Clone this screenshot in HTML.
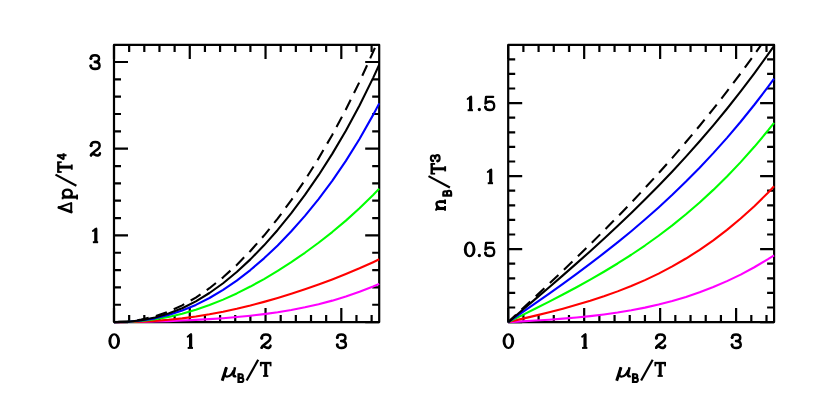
<!DOCTYPE html>
<html><head><meta charset="utf-8"><title>plot</title>
<style>html,body{margin:0;padding:0;background:#fff;overflow:hidden;font-family:"Liberation Sans",sans-serif;}svg{display:block;}</style></head>
<body>
<svg width="817" height="409" viewBox="0 0 817 409">
<rect width="817" height="409" fill="#fff"/>
<path d="M114.00,322.1 v-14.0 M114.00,44.9 v14.0 M129.15,322.1 v-7.0 M129.15,44.9 v7.0 M144.31,322.1 v-7.0 M144.31,44.9 v7.0 M159.46,322.1 v-7.0 M159.46,44.9 v7.0 M174.62,322.1 v-7.0 M174.62,44.9 v7.0 M189.77,322.1 v-14.0 M189.77,44.9 v14.0 M204.93,322.1 v-7.0 M204.93,44.9 v7.0 M220.08,322.1 v-7.0 M220.08,44.9 v7.0 M235.23,322.1 v-7.0 M235.23,44.9 v7.0 M250.39,322.1 v-7.0 M250.39,44.9 v7.0 M265.54,322.1 v-14.0 M265.54,44.9 v14.0 M280.70,322.1 v-7.0 M280.70,44.9 v7.0 M295.85,322.1 v-7.0 M295.85,44.9 v7.0 M311.01,322.1 v-7.0 M311.01,44.9 v7.0 M326.16,322.1 v-7.0 M326.16,44.9 v7.0 M341.31,322.1 v-14.0 M341.31,44.9 v14.0 M356.47,322.1 v-7.0 M356.47,44.9 v7.0 M371.62,322.1 v-7.0 M371.62,44.9 v7.0 M114.0,322.10 h14.0 M379.20,322.10 h-14.0 M114.0,304.76 h7.0 M379.20,304.76 h-7.0 M114.0,287.42 h7.0 M379.20,287.42 h-7.0 M114.0,270.08 h7.0 M379.20,270.08 h-7.0 M114.0,252.74 h7.0 M379.20,252.74 h-7.0 M114.0,235.40 h14.0 M379.20,235.40 h-14.0 M114.0,218.06 h7.0 M379.20,218.06 h-7.0 M114.0,200.72 h7.0 M379.20,200.72 h-7.0 M114.0,183.38 h7.0 M379.20,183.38 h-7.0 M114.0,166.04 h7.0 M379.20,166.04 h-7.0 M114.0,148.70 h14.0 M379.20,148.70 h-14.0 M114.0,131.36 h7.0 M379.20,131.36 h-7.0 M114.0,114.02 h7.0 M379.20,114.02 h-7.0 M114.0,96.68 h7.0 M379.20,96.68 h-7.0 M114.0,79.34 h7.0 M379.20,79.34 h-7.0 M114.0,62.00 h14.0 M379.20,62.00 h-14.0" stroke="#000" stroke-width="2.2" fill="none"/>
<rect x="114.0" y="44.9" width="265.20" height="277.20" fill="none" stroke="#000" stroke-width="2.2" stroke-linejoin="round"/>
<clipPath id="cl"><rect x="111.0" y="44.9" width="271.20" height="281.20"/></clipPath>
<g clip-path="url(#cl)" fill="none" stroke-width="2.1" stroke-linejoin="round">
<path d="M114.00,322.10 L127.64,322.03 L141.28,321.83 L154.92,321.52 L168.56,321.09 L182.19,320.57 L195.83,319.92 L209.47,319.13 L223.11,318.19 L236.75,317.06 L250.39,315.71 L264.03,314.10 L277.67,312.20 L291.31,309.94 L304.94,307.30 L318.58,304.21 L332.22,300.64 L345.86,296.52 L359.50,291.80 L373.14,286.45 L379.20,283.85" stroke="#ff00ff"/>
<path d="M114.00,322.10 L127.64,321.98 L141.28,321.59 L154.92,320.87 L168.56,319.79 L182.19,318.34 L195.83,316.50 L209.47,314.28 L223.11,311.70 L236.75,308.75 L250.39,305.47 L264.03,301.86 L277.67,297.95 L291.31,293.74 L304.94,289.25 L318.58,284.48 L332.22,279.41 L345.86,274.03 L359.50,268.31 L373.14,262.18 L379.20,259.31" stroke="#ff0000"/>
<path d="M114.00,322.10 L127.64,321.82 L141.28,320.90 L154.92,319.28 L168.56,316.90 L182.19,313.74 L195.83,309.79 L209.47,305.07 L223.11,299.61 L236.75,293.43 L250.39,286.56 L264.03,279.05 L277.67,270.90 L291.31,262.15 L304.94,252.77 L318.58,242.76 L332.22,232.06 L345.86,220.60 L359.50,208.27 L373.14,194.92 L379.20,188.61" stroke="#00ff00"/>
<path d="M114.00,322.10 L127.64,321.74 L141.28,320.54 L154.92,318.34 L168.56,315.04 L182.19,310.58 L195.83,304.91 L209.47,298.02 L223.11,289.90 L236.75,280.58 L250.39,270.07 L264.03,258.36 L277.67,245.45 L291.31,231.31 L304.94,215.90 L318.58,199.12 L332.22,180.83 L345.86,160.87 L359.50,138.99 L373.14,114.89 L379.20,103.38" stroke="#0000ff"/>
<path d="M114.00,322.10 L127.64,321.67 L141.28,320.22 L154.92,317.58 L168.56,313.60 L182.19,308.20 L195.83,301.34 L209.47,293.02 L223.11,283.23 L236.75,272.01 L250.39,259.37 L264.03,245.34 L277.67,229.94 L291.31,213.15 L304.94,194.94 L318.58,175.21 L332.22,153.86 L345.86,130.69 L359.50,105.47 L373.14,77.86 L379.20,64.73" stroke="#000000"/>
<path d="M114.00,322.10 L127.64,321.51 L141.28,319.63 L154.92,316.36 L168.56,311.61 L182.19,305.35 L195.83,297.55 L209.47,288.20 L223.11,277.31 L236.75,264.91 L250.39,250.99 L264.03,235.57 L277.67,218.63 L291.31,200.17 L304.94,180.12 L318.58,158.40 L332.22,134.91 L345.86,109.47 L359.50,81.89 L373.14,51.89 L376.98,42.90" stroke="#000000" stroke-dasharray="11.6 7.5" stroke-dashoffset="-4.3"/>
</g>
<path d="M508.20,322.1 v-14.0 M508.20,44.9 v14.0 M523.39,322.1 v-7.0 M523.39,44.9 v7.0 M538.59,322.1 v-7.0 M538.59,44.9 v7.0 M553.78,322.1 v-7.0 M553.78,44.9 v7.0 M568.98,322.1 v-7.0 M568.98,44.9 v7.0 M584.17,322.1 v-14.0 M584.17,44.9 v14.0 M599.37,322.1 v-7.0 M599.37,44.9 v7.0 M614.56,322.1 v-7.0 M614.56,44.9 v7.0 M629.75,322.1 v-7.0 M629.75,44.9 v7.0 M644.95,322.1 v-7.0 M644.95,44.9 v7.0 M660.14,322.1 v-14.0 M660.14,44.9 v14.0 M675.34,322.1 v-7.0 M675.34,44.9 v7.0 M690.53,322.1 v-7.0 M690.53,44.9 v7.0 M705.73,322.1 v-7.0 M705.73,44.9 v7.0 M720.92,322.1 v-7.0 M720.92,44.9 v7.0 M736.11,322.1 v-14.0 M736.11,44.9 v14.0 M751.31,322.1 v-7.0 M751.31,44.9 v7.0 M766.50,322.1 v-7.0 M766.50,44.9 v7.0 M508.2,322.10 h14.0 M774.10,322.10 h-14.0 M508.2,307.50 h7.0 M774.10,307.50 h-7.0 M508.2,292.90 h7.0 M774.10,292.90 h-7.0 M508.2,278.30 h7.0 M774.10,278.30 h-7.0 M508.2,263.70 h7.0 M774.10,263.70 h-7.0 M508.2,249.10 h14.0 M774.10,249.10 h-14.0 M508.2,234.50 h7.0 M774.10,234.50 h-7.0 M508.2,219.90 h7.0 M774.10,219.90 h-7.0 M508.2,205.30 h7.0 M774.10,205.30 h-7.0 M508.2,190.70 h7.0 M774.10,190.70 h-7.0 M508.2,176.10 h14.0 M774.10,176.10 h-14.0 M508.2,161.50 h7.0 M774.10,161.50 h-7.0 M508.2,146.90 h7.0 M774.10,146.90 h-7.0 M508.2,132.30 h7.0 M774.10,132.30 h-7.0 M508.2,117.70 h7.0 M774.10,117.70 h-7.0 M508.2,103.10 h14.0 M774.10,103.10 h-14.0 M508.2,88.50 h7.0 M774.10,88.50 h-7.0 M508.2,73.90 h7.0 M774.10,73.90 h-7.0 M508.2,59.30 h7.0 M774.10,59.30 h-7.0" stroke="#000" stroke-width="2.2" fill="none"/>
<rect x="508.2" y="44.9" width="265.90" height="277.20" fill="none" stroke="#000" stroke-width="2.2" stroke-linejoin="round"/>
<clipPath id="cr"><rect x="505.2" y="44.9" width="271.90" height="281.20"/></clipPath>
<g clip-path="url(#cr)" fill="none" stroke-width="2.1" stroke-linejoin="round">
<path d="M508.20,322.10 L521.87,321.35 L535.55,320.55 L549.22,319.68 L562.90,318.67 L576.57,317.50 L590.25,316.11 L603.92,314.47 L617.60,312.54 L631.27,310.26 L644.95,307.61 L658.62,304.52 L672.30,300.97 L685.97,296.90 L699.65,292.27 L713.32,287.04 L727.00,281.16 L740.67,274.58 L754.35,267.26 L768.02,259.15 L774.10,255.28" stroke="#ff00ff"/>
<path d="M508.20,322.10 L521.87,318.89 L535.55,315.62 L549.22,312.23 L562.90,308.66 L576.57,304.85 L590.25,300.74 L603.92,296.27 L617.60,291.38 L631.27,286.00 L644.95,280.09 L658.62,273.58 L672.30,266.41 L685.97,258.52 L699.65,249.85 L713.32,240.34 L727.00,229.93 L740.67,218.56 L754.35,206.17 L768.02,192.70 L774.10,186.35" stroke="#ff0000"/>
<path d="M508.20,322.10 L521.87,315.35 L535.55,308.54 L549.22,301.63 L562.90,294.55 L576.57,287.25 L590.25,279.67 L603.92,271.77 L617.60,263.48 L631.27,254.75 L644.95,245.52 L658.62,235.74 L672.30,225.34 L685.97,214.27 L699.65,202.48 L713.32,189.89 L727.00,176.46 L740.67,162.11 L754.35,146.80 L768.02,130.46 L774.10,122.84" stroke="#00ff00"/>
<path d="M508.20,322.10 L521.87,312.64 L535.55,303.13 L549.22,293.52 L562.90,283.77 L576.57,273.83 L590.25,263.65 L603.92,253.19 L617.60,242.38 L631.27,231.19 L644.95,219.57 L658.62,207.45 L672.30,194.81 L685.97,181.57 L699.65,167.70 L713.32,153.13 L727.00,137.83 L740.67,121.72 L754.35,104.76 L768.02,86.90 L774.10,78.65" stroke="#0000ff"/>
<path d="M508.20,322.10 L521.87,310.52 L535.55,298.89 L549.22,287.19 L562.90,275.37 L576.57,263.38 L590.25,251.19 L603.92,238.76 L617.60,226.04 L631.27,212.99 L644.95,199.57 L658.62,185.73 L672.30,171.43 L685.97,156.63 L699.65,141.27 L713.32,125.31 L727.00,108.71 L740.67,91.40 L754.35,73.34 L768.02,54.47 L774.10,45.82" stroke="#000000"/>
<path d="M508.20,322.10 L521.87,309.35 L535.55,296.56 L549.22,283.69 L562.90,270.70 L576.57,257.55 L590.25,244.21 L603.92,230.64 L617.60,216.79 L631.27,202.63 L644.95,188.11 L658.62,173.20 L672.30,157.87 L685.97,142.06 L699.65,125.74 L713.32,108.88 L727.00,91.42 L740.67,73.34 L754.35,54.60 L762.57,42.90" stroke="#000000" stroke-dasharray="11.8 7.6" stroke-dashoffset="1.1"/>
</g>
<g transform="translate(108.15,348.90) scale(1,1.04)"><path d="M0.20000000000000018,-7.5 a5.85,7.6 0 1,0 11.7,0 a5.85,7.6 0 1,0 -11.7,0 Z M3.0999999999999996,-7.5 a2.95,5.6 0 1,0 5.9,0 a2.95,5.6 0 1,0 -5.9,0 Z" fill="#000" fill-rule="evenodd"/></g>
<g transform="translate(186.47,348.90) scale(1,1.04)"><path d="M4.15,-14.0 V-1.0" fill="none" stroke="#000" stroke-width="3.2" stroke-linecap="butt" stroke-linejoin="round"/><path d="M4.6,-14.2 L1.2,-11.7" fill="none" stroke="#000" stroke-width="1.9" stroke-linecap="round" stroke-linejoin="round"/><path d="M1.2,-0.95 H6.5" fill="none" stroke="#000" stroke-width="1.9" stroke-linecap="butt" stroke-linejoin="round"/></g>
<g transform="translate(259.99,348.90) scale(1,1.04)"><path d="M1.7,-10.40 C1.7,-12.80 3.6,-13.90 5.9,-13.90 C8.6,-13.90 10.3,-12.50 10.3,-10.40 C10.3,-8.10 8.2,-6.70 5.9,-5.30 C3.6,-3.80 2.2,-2.60 1.7,-1.20" fill="none" stroke="#000" stroke-width="2.5" stroke-linecap="round" stroke-linejoin="round"/><path d="M1.6,-1.10 C2.3,-2.80 3.6,-2.80 5.0,-2.00 C6.5,-1.10 7.9,-0.70 9.1,-1.10 C10.0,-1.50 10.5,-2.20 10.6,-3.10" fill="none" stroke="#000" stroke-width="2.5" stroke-linecap="round" stroke-linejoin="round"/><circle cx="1.8" cy="-10.5" r="1.6" fill="#000"/></g>
<g transform="translate(335.76,348.90) scale(1,1.04)"><path d="M1.5,-10.90 C1.5,-13.00 3.5,-13.90 5.6,-13.90 C8.2,-13.90 9.7,-12.60 9.7,-10.80 C9.7,-8.90 8.3,-7.70 5.4,-7.60 C8.6,-7.50 10.2,-6.00 10.2,-4.00 C10.2,-1.60 8.3,-0.90 5.6,-0.90 C3.3,-0.90 1.4,-1.80 1.4,-3.70" fill="none" stroke="#000" stroke-width="2.45" stroke-linecap="round" stroke-linejoin="round"/><circle cx="1.6" cy="-11.0" r="1.5" fill="#000"/><circle cx="1.5" cy="-3.9000000000000004" r="1.5" fill="#000"/></g>
<g transform="translate(502.35,348.90) scale(1,1.04)"><path d="M0.20000000000000018,-7.5 a5.85,7.6 0 1,0 11.7,0 a5.85,7.6 0 1,0 -11.7,0 Z M3.0999999999999996,-7.5 a2.95,5.6 0 1,0 5.9,0 a2.95,5.6 0 1,0 -5.9,0 Z" fill="#000" fill-rule="evenodd"/></g>
<g transform="translate(580.87,348.90) scale(1,1.04)"><path d="M4.15,-14.0 V-1.0" fill="none" stroke="#000" stroke-width="3.2" stroke-linecap="butt" stroke-linejoin="round"/><path d="M4.6,-14.2 L1.2,-11.7" fill="none" stroke="#000" stroke-width="1.9" stroke-linecap="round" stroke-linejoin="round"/><path d="M1.2,-0.95 H6.5" fill="none" stroke="#000" stroke-width="1.9" stroke-linecap="butt" stroke-linejoin="round"/></g>
<g transform="translate(654.59,348.90) scale(1,1.04)"><path d="M1.7,-10.40 C1.7,-12.80 3.6,-13.90 5.9,-13.90 C8.6,-13.90 10.3,-12.50 10.3,-10.40 C10.3,-8.10 8.2,-6.70 5.9,-5.30 C3.6,-3.80 2.2,-2.60 1.7,-1.20" fill="none" stroke="#000" stroke-width="2.5" stroke-linecap="round" stroke-linejoin="round"/><path d="M1.6,-1.10 C2.3,-2.80 3.6,-2.80 5.0,-2.00 C6.5,-1.10 7.9,-0.70 9.1,-1.10 C10.0,-1.50 10.5,-2.20 10.6,-3.10" fill="none" stroke="#000" stroke-width="2.5" stroke-linecap="round" stroke-linejoin="round"/><circle cx="1.8" cy="-10.5" r="1.6" fill="#000"/></g>
<g transform="translate(730.56,348.90) scale(1,1.04)"><path d="M1.5,-10.90 C1.5,-13.00 3.5,-13.90 5.6,-13.90 C8.2,-13.90 9.7,-12.60 9.7,-10.80 C9.7,-8.90 8.3,-7.70 5.4,-7.60 C8.6,-7.50 10.2,-6.00 10.2,-4.00 C10.2,-1.60 8.3,-0.90 5.6,-0.90 C3.3,-0.90 1.4,-1.80 1.4,-3.70" fill="none" stroke="#000" stroke-width="2.45" stroke-linecap="round" stroke-linejoin="round"/><circle cx="1.6" cy="-11.0" r="1.5" fill="#000"/><circle cx="1.5" cy="-3.9000000000000004" r="1.5" fill="#000"/></g>
<g transform="translate(91.65,243.20) scale(1,1.04)"><path d="M4.15,-14.0 V-1.0" fill="none" stroke="#000" stroke-width="3.2" stroke-linecap="butt" stroke-linejoin="round"/><path d="M4.6,-14.2 L1.2,-11.7" fill="none" stroke="#000" stroke-width="1.9" stroke-linecap="round" stroke-linejoin="round"/><path d="M1.2,-0.95 H6.5" fill="none" stroke="#000" stroke-width="1.9" stroke-linecap="butt" stroke-linejoin="round"/></g>
<g transform="translate(89.35,156.50) scale(1,1.04)"><path d="M1.7,-10.40 C1.7,-12.80 3.6,-13.90 5.9,-13.90 C8.6,-13.90 10.3,-12.50 10.3,-10.40 C10.3,-8.10 8.2,-6.70 5.9,-5.30 C3.6,-3.80 2.2,-2.60 1.7,-1.20" fill="none" stroke="#000" stroke-width="2.5" stroke-linecap="round" stroke-linejoin="round"/><path d="M1.6,-1.10 C2.3,-2.80 3.6,-2.80 5.0,-2.00 C6.5,-1.10 7.9,-0.70 9.1,-1.10 C10.0,-1.50 10.5,-2.20 10.6,-3.10" fill="none" stroke="#000" stroke-width="2.5" stroke-linecap="round" stroke-linejoin="round"/><circle cx="1.8" cy="-10.5" r="1.6" fill="#000"/></g>
<g transform="translate(89.35,69.80) scale(1,1.04)"><path d="M1.5,-10.90 C1.5,-13.00 3.5,-13.90 5.6,-13.90 C8.2,-13.90 9.7,-12.60 9.7,-10.80 C9.7,-8.90 8.3,-7.70 5.4,-7.60 C8.6,-7.50 10.2,-6.00 10.2,-4.00 C10.2,-1.60 8.3,-0.90 5.6,-0.90 C3.3,-0.90 1.4,-1.80 1.4,-3.70" fill="none" stroke="#000" stroke-width="2.45" stroke-linecap="round" stroke-linejoin="round"/><circle cx="1.6" cy="-11.0" r="1.5" fill="#000"/><circle cx="1.5" cy="-3.9000000000000004" r="1.5" fill="#000"/></g>
<g transform="translate(463.60,257.20) scale(1,1.04)"><path d="M0.20000000000000018,-7.5 a5.85,7.6 0 1,0 11.7,0 a5.85,7.6 0 1,0 -11.7,0 Z M3.0999999999999996,-7.5 a2.95,5.6 0 1,0 5.9,0 a2.95,5.6 0 1,0 -5.9,0 Z" fill="#000" fill-rule="evenodd"/></g><g transform="translate(477.65,257.20) scale(1,1.04)"><circle cx="1.7" cy="-1.6" r="1.6" fill="#000"/></g><g transform="translate(483.75,257.20) scale(1,1.04)"><path d="M9.4,-13.80 H2.3 L1.7,-7.40 C2.9,-8.70 4.4,-9.30 6.0,-9.30 C8.8,-9.30 10.5,-7.60 10.5,-5.10 C10.5,-2.50 8.7,-1.10 5.9,-1.10 C3.8,-1.10 1.8,-2.00 1.5,-4.00" fill="none" stroke="#000" stroke-width="2.3" stroke-linecap="round" stroke-linejoin="round"/><circle cx="1.7" cy="-4.1" r="1.45" fill="#000"/></g>
<g transform="translate(486.55,184.20) scale(1,1.04)"><path d="M4.15,-14.0 V-1.0" fill="none" stroke="#000" stroke-width="3.2" stroke-linecap="butt" stroke-linejoin="round"/><path d="M4.6,-14.2 L1.2,-11.7" fill="none" stroke="#000" stroke-width="1.9" stroke-linecap="round" stroke-linejoin="round"/><path d="M1.2,-0.95 H6.5" fill="none" stroke="#000" stroke-width="1.9" stroke-linecap="butt" stroke-linejoin="round"/></g>
<g transform="translate(466.45,111.20) scale(1,1.04)"><path d="M4.15,-14.0 V-1.0" fill="none" stroke="#000" stroke-width="3.2" stroke-linecap="butt" stroke-linejoin="round"/><path d="M4.6,-14.2 L1.2,-11.7" fill="none" stroke="#000" stroke-width="1.9" stroke-linecap="round" stroke-linejoin="round"/><path d="M1.2,-0.95 H6.5" fill="none" stroke="#000" stroke-width="1.9" stroke-linecap="butt" stroke-linejoin="round"/></g><g transform="translate(477.65,111.20) scale(1,1.04)"><circle cx="1.7" cy="-1.6" r="1.6" fill="#000"/></g><g transform="translate(483.75,111.20) scale(1,1.04)"><path d="M9.4,-13.80 H2.3 L1.7,-7.40 C2.9,-8.70 4.4,-9.30 6.0,-9.30 C8.8,-9.30 10.5,-7.60 10.5,-5.10 C10.5,-2.50 8.7,-1.10 5.9,-1.10 C3.8,-1.10 1.8,-2.00 1.5,-4.00" fill="none" stroke="#000" stroke-width="2.3" stroke-linecap="round" stroke-linejoin="round"/><circle cx="1.7" cy="-4.1" r="1.45" fill="#000"/></g>
<g transform="translate(220.90,377.00)"><path d="M5.6,-9.8 L1.3,3.7" fill="none" stroke="#000" stroke-width="2.9" stroke-linecap="butt" stroke-linejoin="round"/><path d="M5.2,-9 L4,-3.6 C3.5,-1.2 5.0,-0.3 6.7,-0.5 C9,-0.8 11.2,-3 12.5,-6" fill="none" stroke="#000" stroke-width="2.2" stroke-linecap="round" stroke-linejoin="round"/><path d="M14.1,-9.8 L12.6,-2.8 C12.2,-0.9 13.6,-0.2 15.2,-1.1" fill="none" stroke="#000" stroke-width="2.5" stroke-linecap="butt" stroke-linejoin="round"/></g><g transform="translate(237.30,383.00)"><g transform="scale(1,1.08)"><path d="M1.3,0 V-9" fill="none" stroke="#000" stroke-width="2.4" stroke-linecap="butt" stroke-linejoin="round"/><path d="M1.3,-8.1 H3.7 C6.1,-8.1 6.1,-4.7 3.7,-4.7 H1.3 M3.7,-4.7 C6.9,-4.7 6.9,-0.9 3.7,-0.9 H1.3" fill="none" stroke="#000" stroke-width="2.0" stroke-linecap="butt" stroke-linejoin="miter"/></g></g><path d="M246.60,380.5 L258.20,359.7" fill="none" stroke="#000" stroke-width="2.2" stroke-linecap="butt" stroke-linejoin="round"/><g transform="translate(259.90,376.90)"><path d="M0.9,-13.9 H10.7" fill="none" stroke="#000" stroke-width="2.3" stroke-linecap="butt" stroke-linejoin="round"/><path d="M0.9,-15.0 V-10.6" fill="none" stroke="#000" stroke-width="1.8" stroke-linecap="butt" stroke-linejoin="round"/><path d="M10.7,-15.0 V-10.6" fill="none" stroke="#000" stroke-width="1.8" stroke-linecap="butt" stroke-linejoin="round"/><path d="M5.8,-13.9 V-0.9" fill="none" stroke="#000" stroke-width="3.0" stroke-linecap="butt" stroke-linejoin="round"/><path d="M3.2,-0.9 H8.4" fill="none" stroke="#000" stroke-width="1.8" stroke-linecap="butt" stroke-linejoin="round"/></g>
<g transform="translate(615.40,377.00)"><path d="M5.6,-9.8 L1.3,3.7" fill="none" stroke="#000" stroke-width="2.9" stroke-linecap="butt" stroke-linejoin="round"/><path d="M5.2,-9 L4,-3.6 C3.5,-1.2 5.0,-0.3 6.7,-0.5 C9,-0.8 11.2,-3 12.5,-6" fill="none" stroke="#000" stroke-width="2.2" stroke-linecap="round" stroke-linejoin="round"/><path d="M14.1,-9.8 L12.6,-2.8 C12.2,-0.9 13.6,-0.2 15.2,-1.1" fill="none" stroke="#000" stroke-width="2.5" stroke-linecap="butt" stroke-linejoin="round"/></g><g transform="translate(631.80,383.00)"><g transform="scale(1,1.08)"><path d="M1.3,0 V-9" fill="none" stroke="#000" stroke-width="2.4" stroke-linecap="butt" stroke-linejoin="round"/><path d="M1.3,-8.1 H3.7 C6.1,-8.1 6.1,-4.7 3.7,-4.7 H1.3 M3.7,-4.7 C6.9,-4.7 6.9,-0.9 3.7,-0.9 H1.3" fill="none" stroke="#000" stroke-width="2.0" stroke-linecap="butt" stroke-linejoin="miter"/></g></g><path d="M641.10,380.5 L652.70,359.7" fill="none" stroke="#000" stroke-width="2.2" stroke-linecap="butt" stroke-linejoin="round"/><g transform="translate(654.40,376.90)"><path d="M0.9,-13.9 H10.7" fill="none" stroke="#000" stroke-width="2.3" stroke-linecap="butt" stroke-linejoin="round"/><path d="M0.9,-15.0 V-10.6" fill="none" stroke="#000" stroke-width="1.8" stroke-linecap="butt" stroke-linejoin="round"/><path d="M10.7,-15.0 V-10.6" fill="none" stroke="#000" stroke-width="1.8" stroke-linecap="butt" stroke-linejoin="round"/><path d="M5.8,-13.9 V-0.9" fill="none" stroke="#000" stroke-width="3.0" stroke-linecap="butt" stroke-linejoin="round"/><path d="M3.2,-0.9 H8.4" fill="none" stroke="#000" stroke-width="1.8" stroke-linecap="butt" stroke-linejoin="round"/></g>
<g transform="translate(72.2,213.4) rotate(-90)">
<g transform="translate(0.20,0.00)"><path d="M0.9,-1.0 H10.4" fill="none" stroke="#000" stroke-width="2.0" stroke-linecap="butt" stroke-linejoin="round"/><path d="M1.3,-1.0 L5.7,-13.3" fill="none" stroke="#000" stroke-width="2.9" stroke-linecap="round" stroke-linejoin="round"/><path d="M5.7,-13.3 L10.1,-1.0" fill="none" stroke="#000" stroke-width="1.9" stroke-linecap="round" stroke-linejoin="round"/></g>
<g transform="translate(13.60,0.00)"><path d="M2.7,-9.8 V5.0" fill="none" stroke="#000" stroke-width="3.0" stroke-linecap="butt" stroke-linejoin="round"/><path d="M0.5,-9.6 H2.7" fill="none" stroke="#000" stroke-width="1.8" stroke-linecap="butt" stroke-linejoin="round"/><path d="M0.4,4.9 H5.3" fill="none" stroke="#000" stroke-width="1.8" stroke-linecap="butt" stroke-linejoin="round"/><path d="M3.6,-7.6 C5,-10.2 10.2,-10.0 10.2,-4.9 C10.2,0.4 5,0.4 3.6,-2.0" fill="none" stroke="#000" stroke-width="2.3" stroke-linecap="round" stroke-linejoin="round"/></g>
<path d="M27.7,4.2 L38.8,-16.7" fill="none" stroke="#000" stroke-width="2.2" stroke-linecap="butt" stroke-linejoin="round"/>
<g transform="translate(40.5,0.5) scale(1,1.035)"><path d="M0.9,-13.9 H10.7" fill="none" stroke="#000" stroke-width="2.3" stroke-linecap="butt" stroke-linejoin="round"/><path d="M0.9,-15.0 V-10.6" fill="none" stroke="#000" stroke-width="1.8" stroke-linecap="butt" stroke-linejoin="round"/><path d="M10.7,-15.0 V-10.6" fill="none" stroke="#000" stroke-width="1.8" stroke-linecap="butt" stroke-linejoin="round"/><path d="M5.8,-13.9 V-0.9" fill="none" stroke="#000" stroke-width="3.0" stroke-linecap="butt" stroke-linejoin="round"/><path d="M3.2,-0.9 H8.4" fill="none" stroke="#000" stroke-width="1.8" stroke-linecap="butt" stroke-linejoin="round"/></g>
<g transform="translate(53.20,-5.70)"><path d="M4.9,0 V-9.3 L0.9,-2.9 H7.0" fill="none" stroke="#000" stroke-width="2.0" stroke-linecap="butt" stroke-linejoin="bevel"/></g>
</g>
<g transform="translate(445.8,211.0) rotate(-90)">
<g transform="translate(-0.3,0.2) scale(1.04)"><path d="M2.7,-9.6 V-0.9" fill="none" stroke="#000" stroke-width="3.0" stroke-linecap="butt" stroke-linejoin="round"/><path d="M0.6,-9.5 H2.7" fill="none" stroke="#000" stroke-width="1.8" stroke-linecap="butt" stroke-linejoin="round"/><path d="M0.5,-0.9 H5.1" fill="none" stroke="#000" stroke-width="1.8" stroke-linecap="butt" stroke-linejoin="round"/><path d="M3.8,-7.0 C5,-9.6 9.3,-10.4 9.3,-6.4" fill="none" stroke="#000" stroke-width="2.3" stroke-linecap="round" stroke-linejoin="round"/><path d="M9.3,-6.6 V-0.9" fill="none" stroke="#000" stroke-width="2.8" stroke-linecap="butt" stroke-linejoin="round"/><path d="M6.9,-0.9 H11.3" fill="none" stroke="#000" stroke-width="1.8" stroke-linecap="butt" stroke-linejoin="round"/></g>
<g transform="translate(14.20,6.30)"><g transform="scale(1,1.08)"><path d="M1.3,0 V-9" fill="none" stroke="#000" stroke-width="2.4" stroke-linecap="butt" stroke-linejoin="round"/><path d="M1.3,-8.1 H3.7 C6.1,-8.1 6.1,-4.7 3.7,-4.7 H1.3 M3.7,-4.7 C6.9,-4.7 6.9,-0.9 3.7,-0.9 H1.3" fill="none" stroke="#000" stroke-width="2.0" stroke-linecap="butt" stroke-linejoin="miter"/></g></g>
<path d="M23.5,4.1 L34.9,-17.3" fill="none" stroke="#000" stroke-width="2.2" stroke-linecap="butt" stroke-linejoin="round"/>
<g transform="translate(36.4,0.3) scale(1,1.035)"><path d="M0.9,-13.9 H10.7" fill="none" stroke="#000" stroke-width="2.3" stroke-linecap="butt" stroke-linejoin="round"/><path d="M0.9,-15.0 V-10.6" fill="none" stroke="#000" stroke-width="1.8" stroke-linecap="butt" stroke-linejoin="round"/><path d="M10.7,-15.0 V-10.6" fill="none" stroke="#000" stroke-width="1.8" stroke-linecap="butt" stroke-linejoin="round"/><path d="M5.8,-13.9 V-0.9" fill="none" stroke="#000" stroke-width="3.0" stroke-linecap="butt" stroke-linejoin="round"/><path d="M3.2,-0.9 H8.4" fill="none" stroke="#000" stroke-width="1.8" stroke-linecap="butt" stroke-linejoin="round"/></g>
<g transform="translate(49.00,-5.60)"><g transform="scale(0.67)"><path d="M1.5,-10.90 C1.5,-13.00 3.5,-13.90 5.6,-13.90 C8.2,-13.90 9.7,-12.60 9.7,-10.80 C9.7,-8.90 8.3,-7.70 5.4,-7.60 C8.6,-7.50 10.2,-6.00 10.2,-4.00 C10.2,-1.60 8.3,-0.90 5.6,-0.90 C3.3,-0.90 1.4,-1.80 1.4,-3.70" fill="none" stroke="#000" stroke-width="3.2" stroke-linecap="round" stroke-linejoin="round"/><circle cx="1.6" cy="-11.0" r="2.1" fill="#000"/><circle cx="1.5" cy="-3.9000000000000004" r="2.1" fill="#000"/></g></g>
</g>
</svg>
</body></html>
